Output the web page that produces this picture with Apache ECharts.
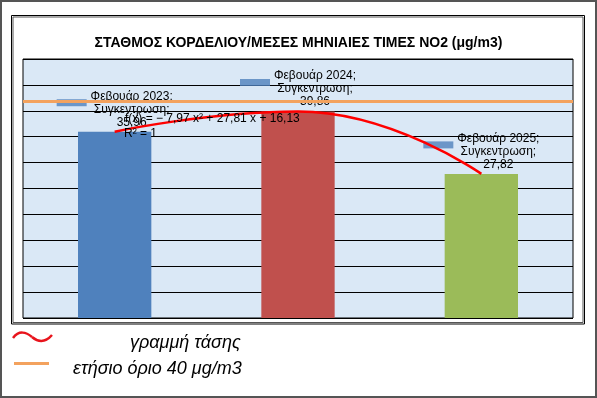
<!DOCTYPE html>
<html>
<head>
<meta charset="utf-8">
<script src="https://cdn.jsdelivr.net/npm/echarts@6/dist/echarts.min.js"></script>
<style>
html,body{margin:0;padding:0;background:#fff;}
#c{width:597px;height:398px;}
</style>
</head>
<body>
<div id="c"></div>
<script>
// ---- data ----
var categories = ['Φεβουάρ 2023', 'Φεβουάρ 2024', 'Φεβουάρ 2025'];
var seriesName = 'Συγκεντρωση';
var values = [35.96, 39.86, 27.82];
var barColors = ['#4f81bd', '#c0504d', '#9bbb59'];
var limitLevel = [41.8]; // drawn position of the orange limit line
var trendText = ['f(x) = − 7,97 x² + 27,81 x + 16,13', 'R² = 1'];
var titleText = 'ΣΤΑΘΜΟΣ ΚΟΡΔΕΛΙΟΥ/ΜΕΣΕΣ ΜΗΝΙΑΙΕΣ ΤΙΜΕΣ NO2 (μg/m3)';
var legendTexts = ['γραμμή τάσης', 'ετήσιο όριο 40 μg/m3'];
var yTicks = {min: 0, max: 50, interval: 5};

var FONT = '"Liberation Sans", Arial, sans-serif';
function fmt(v){ return v.toFixed(2).replace('.', ','); }

var chart = echarts.init(document.getElementById('c'), null, {renderer: 'canvas'});
chart.setOption({
  animation: false,
  backgroundColor: '#fff',
  title: {
    text: titleText, left: 'center', top: 31,
    textStyle: {fontFamily: FONT, fontSize: 14, fontWeight: 'bold', color: '#000'}
  },
  grid: {
    left: 23, top: 59, right: 24, bottom: 80,
    show: true, backgroundColor: '#dae8f6', borderColor: '#000', borderWidth: 1
  },
  xAxis: {
    type: 'category', data: categories,
    axisLine: {show: false}, axisTick: {show: false}, axisLabel: {show: false}
  },
  yAxis: {
    type: 'value', min: yTicks.min, max: yTicks.max, interval: yTicks.interval,
    axisLine: {show: false}, axisTick: {show: false}, axisLabel: {show: false},
    splitLine: {lineStyle: {color: '#000', width: 1}}
  },
  series: [
    {
      name: seriesName, type: 'bar', barCategoryGap: '60%',
      data: values.map(function(v, i){ return {value: v, itemStyle: {color: barColors[i]}}; }),
      label: {
        show: true, position: 'top', distance: 3, offset: [17, 0],
        fontFamily: FONT, fontSize: 12, lineHeight: 13, color: '#000', align: 'center',
        formatter: function(p){ return p.name + ';\n' + p.seriesName + ';\n' + fmt(p.value); }
      },
      markLine: {
        silent: true, symbol: 'none', label: {show: false},
        lineStyle: {color: '#f3a25e', width: 3, type: 'solid'},
        data: [{yAxis: limitLevel[0]}]
      },
      z: 2
    },
    {
      name: 'key', type: 'scatter', data: values,
      symbol: 'rect', symbolSize: [30, 7], symbolOffset: [-43, -29],
      itemStyle: {color: '#4f81bd'}, silent: true, z: 3
    },
    {
      name: 'trend', type: 'line', data: values, smooth: 0.5,
      symbol: 'none', lineStyle: {color: '#ff0000', width: 2.5}, z: 4
    }
  ],
  graphic: [
    {type: 'rect', shape: {x: 1, y: 1, width: 595, height: 396}, style: {fill: 'none', stroke: '#555', lineWidth: 2}, z: 100},
    {type: 'rect', shape: {x: 11.5, y: 15.5, width: 573, height: 308.5}, style: {fill: 'none', stroke: '#000', lineWidth: 1}, z: 100},
    {type: 'rect', shape: {x: 13, y: 17, width: 570, height: 305.5}, style: {fill: 'none', stroke: '#555', lineWidth: 1}, z: 100},
    {type: 'text', x: 125, y: 113, style: {text: trendText[0], font: '12px ' + FONT, fill: '#000'}, z: 100},
    {type: 'text', x: 124, y: 128, style: {text: trendText[1], font: '12px ' + FONT, fill: '#000'}, z: 100},
    {type: 'bezierCurve', shape: {x1: 13, y1: 338, cpx1: 19, cpy1: 330, cpx2: 26, cpy2: 332, x2: 32, y2: 337}, style: {fill: 'none', stroke: '#e8141c', lineWidth: 2.5}, z: 100},
    {type: 'bezierCurve', shape: {x1: 32, y1: 337, cpx1: 38, cpy1: 342, cpx2: 45, cpy2: 343, x2: 52, y2: 335}, style: {fill: 'none', stroke: '#e8141c', lineWidth: 2.5}, z: 100},
    {type: 'text', x: 130, y: 334, style: {text: legendTexts[0], font: 'italic 18px ' + FONT, fill: '#000'}, z: 100},
    {type: 'line', shape: {x1: 14, y1: 363.5, x2: 49, y2: 363.5}, style: {stroke: '#f3a25e', lineWidth: 3}, z: 100},
    {type: 'text', x: 73, y: 360, style: {text: legendTexts[1], font: 'italic 18px ' + FONT, fill: '#000'}, z: 100}
  ]
});
</script>
</body>
</html>
